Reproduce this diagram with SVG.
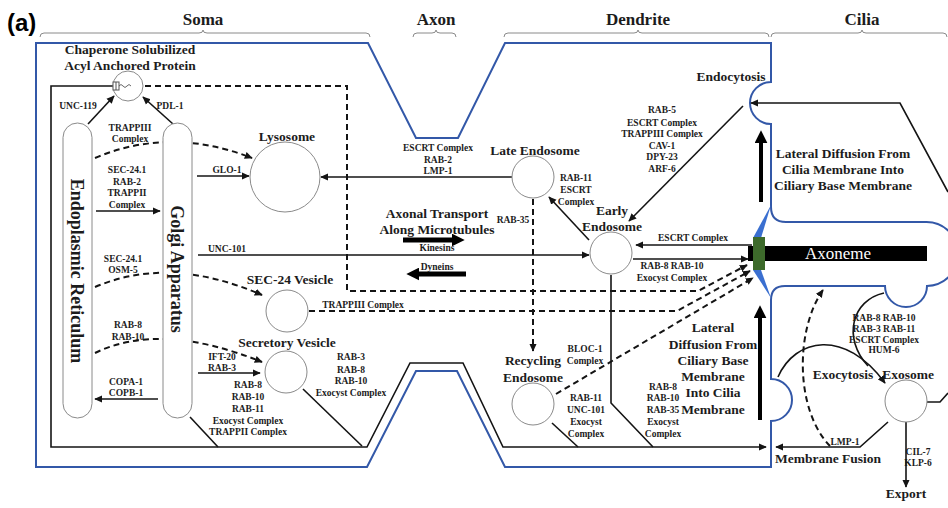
<svg xmlns="http://www.w3.org/2000/svg" width="948" height="508" viewBox="0 0 948 508">
<defs>
<style>
text{font-family:"Liberation Serif",serif;font-weight:bold;fill:#1c1c1c;text-anchor:middle}
.s{font-size:9.5px}
.m{font-size:13.5px}
.h{font-size:17px}
.r{font-size:18px}
.ln{fill:none;stroke:#141414;stroke-width:1.6}
.ds{fill:none;stroke:#141414;stroke-width:2;stroke-dasharray:6 4}
.th{fill:none;stroke:#000;stroke-width:5}
.c{fill:#fff;stroke:#8a8a8a;stroke-width:1}
.br{fill:none;stroke:#8a8a8a;stroke-width:1}
</style>
<marker id="ar" viewBox="0 0 10 10" refX="9" refY="5" markerWidth="8" markerHeight="8" markerUnits="userSpaceOnUse" orient="auto"><path d="M0,0.5 L10,5 L0,9.5 z" fill="#141414"/></marker>
<marker id="big" viewBox="0 0 10 10" refX="1" refY="5" markerWidth="13" markerHeight="13" markerUnits="userSpaceOnUse" orient="auto"><path d="M0,0 L10,5 L0,10 z" fill="#000"/></marker>
</defs>
<rect width="948" height="508" fill="#fff"/>
<text x="7" y="31" style="font-family:'Liberation Sans',sans-serif;font-size:24px;text-anchor:start;fill:#000">(a)</text>
<g id="brackets">
<path class="br" d="M40 37 Q40 33 44 33 H199 Q203 33 203 30 Q203 33 207 33 H366 Q370 33 370 37"/>
<path class="br" d="M413 37 Q413 33 417 33 H432 Q436 33 436 30 Q436 33 440 33 H452 Q456 33 456 37"/>
<path class="br" d="M504 37 Q504 33 508 33 H634 Q638 33 638 30 Q638 33 642 33 H765 Q769 33 769 37"/>
<path class="br" d="M771 37 Q771 33 775 33 H858 Q862 33 862 30 Q862 33 866 33 H943 Q947 33 947 37"/>
<text class="h" x="203" y="25">Soma</text>
<text class="h" x="436" y="25">Axon</text>
<text class="h" x="638" y="25">Dendrite</text>
<text class="h" x="862" y="25">Cilia</text>
</g>
<g id="membrane">
<path d="M36 43 H368 L416 138 H458 L505 43 H771 V82 A21 21 0 0 0 771 124 V207 Q771 222 786 222 H926 A32 32 0 0 1 927 286 A21 21 0 0 1 885 286 H785 Q771 286 771 300 V379 A21 21 0 0 1 771 421 V467 H505 L457 371 H416 L367 467 H36 Z" fill="none" stroke="#3358a8" stroke-width="2"/>
<polygon points="771,205 753,238 761,238" fill="#3a6fd0"/>
<polygon points="753,270 761,270 771,298" fill="#3a6fd0"/>
</g>
<g id="connectors">
<path class="ln" d="M113 86 H51 V447 H367 L410 363 H463 L503 447 H766" marker-end="url(#ar)"/>
<path class="ln" d="M88 124 L114 96" marker-end="url(#ar)"/>
<path class="ln" d="M173 124 L143 97" marker-end="url(#ar)"/>
<path class="ln" d="M96 211 L160 211" marker-end="url(#ar)"/>
<path class="ln" d="M197 176 L249 176" marker-end="url(#ar)"/>
<path class="ln" d="M198 255 L589 255" marker-end="url(#ar)"/>
<path class="ln" d="M198 373 L260 373" marker-end="url(#ar)"/>
<path class="ln" d="M158 399 L95 399" marker-end="url(#ar)"/>
<path class="ln" d="M190 417 L218 447"/>
<path class="ln" d="M303 389 L362 446"/>
<path class="ln" d="M512 177 L321 177" marker-end="url(#ar)"/>
<path class="ln" d="M589 240 L549 197" marker-end="url(#ar)"/>
<path class="ln" d="M743 106 L629 221" marker-end="url(#ar)"/>
<path class="ln" d="M752 245 L636 245" marker-end="url(#ar)"/>
<path class="ln" d="M633 259 L748 259" marker-end="url(#ar)"/>
<path class="ln" d="M611 275 V403 L653 447"/>
<path class="ln" d="M552 423 L578 447"/>
<path class="ln" d="M948 192 L900 103 L751 103" marker-end="url(#ar)"/>
<path class="ln" d="M888 422 L860 447 L776 447" marker-end="url(#ar)"/>
<path class="ln" d="M906 422 V487" marker-end="url(#ar)"/>
<path class="ln" d="M927 402 H940 L948 393"/>
<path class="ln" d="M778 377 C795 338 845 328 885 383" marker-end="url(#ar)"/>
<path class="ln" d="M884 293 C852 300 842 338 868 366"/>
<path class="ds" d="M145 86 H347 V291 H698 L747 265" marker-end="url(#ar)"/>
<path class="ds" d="M309 311 H677 L750 271" marker-end="url(#ar)"/>
<path class="ds" d="M556 394 L753 278" marker-end="url(#ar)"/>
<path class="ds" d="M533 199 V351" marker-end="url(#ar)"/>
<path class="ds" d="M95 158 Q170 126 252 158" marker-end="url(#ar)"/>
<path class="ds" d="M95 287 Q170 255 262 295" marker-end="url(#ar)"/>
<path class="ds" d="M95 353 Q160 321 262 362" marker-end="url(#ar)"/>
<path class="ds" d="M830 446 C795 410 795 330 823 290" marker-end="url(#ar)"/>
<path class="th" d="M403 240 H453" marker-end="url(#big)"/>
<path class="th" d="M466 274 H418" marker-end="url(#big)"/>
<path class="th" style="stroke-width:4" d="M760 420 V317" marker-end="url(#big)"/>
<path class="th" style="stroke-width:4" d="M761 202 V142" marker-end="url(#big)"/>
</g>
<g id="er">
<rect x="63" y="123" width="29" height="295" rx="14.5" class="c"/>
<text class="r" x="77" y="271" dy="0.35em" transform="rotate(90 77 271)">Endoplasmic Reticulum</text>
</g>
<g id="golgi">
<rect x="163" y="123" width="29" height="295" rx="14.5" class="c"/>
<text class="r" x="177" y="269" dy="0.35em" transform="rotate(90 177 269)">Golgi Apparatus</text>
</g>
<g id="chaperone">
<circle cx="128" cy="86" r="15" class="c"/>
<rect x="113" y="82" width="6" height="8" fill="#fff" stroke="#555" stroke-width="1"/>
<line x1="116" y1="82" x2="116" y2="90" stroke="#555" stroke-width="1"/>
<path d="M119 86 q2 -3 4 0 t4 0 t4 0" fill="none" stroke="#555" stroke-width="0.9"/>
<text class="m" x="130" y="54">Chaperone Solubilized</text>
<text class="m" x="130" y="70">Acyl Anchored Protein</text>
</g>
<g id="lysosome">
<circle cx="285" cy="177" r="35" class="c"/>
<text class="m" x="287" y="141">Lysosome</text>
</g>
<g id="sec24">
<circle cx="287" cy="311" r="21" class="c"/>
<text class="m" x="290" y="284">SEC-24 Vesicle</text>
</g>
<g id="secretory">
<circle cx="286" cy="372" r="21" class="c"/>
<text class="m" x="287" y="347">Secretory Vesicle</text>
</g>
<g id="late">
<circle cx="533" cy="177" r="21" class="c"/>
<text class="m" x="535" y="155">Late Endosome</text>
</g>
<g id="early">
<circle cx="611" cy="253" r="21" class="c"/>
<text class="m" x="612" y="215">Early</text>
<text class="m" x="612" y="231">Endosome</text>
</g>
<g id="recycling">
<circle cx="533" cy="404" r="21" class="c"/>
<text class="m" x="533" y="365">Recycling</text>
<text class="m" x="533" y="382">Endosome</text>
</g>
<g id="exosome">
<circle cx="906" cy="401" r="21" class="c"/>
<text class="m" x="908" y="379">Exosome</text>
</g>
<g id="axoneme">
<rect x="748" y="246" width="179" height="15" fill="#000"/>
<rect x="753" y="237" width="12" height="33" fill="#3d6a2b"/>
<text x="838" y="259" style="font-weight:normal;font-size:17px;fill:#fff">Axoneme</text>
</g>
<g id="labels">
<text class="m" x="437" y="218">Axonal Transport</text>
<text class="m" x="437" y="234">Along Microtubules</text>
<text class="m" x="731" y="81">Endocytosis</text>
<text class="m" x="843" y="158">Lateral Diffusion From</text>
<text class="m" x="843" y="174">Cilia Membrane Into</text>
<text class="m" x="843" y="190">Ciliary Base Membrane</text>
<text class="m" x="713" y="332">Lateral</text>
<text class="m" x="713" y="349">Diffusion From</text>
<text class="m" x="713" y="365">Ciliary Base</text>
<text class="m" x="713" y="381">Membrane</text>
<text class="m" x="713" y="397">Into Cilia</text>
<text class="m" x="713" y="414">Membrane</text>
<text class="m" x="843" y="379">Exocytosis</text>
<text class="m" x="828" y="463">Membrane Fusion</text>
<text class="m" x="906" y="498">Export</text>
<text class="s" x="78" y="109">UNC-119</text>
<text class="s" x="170" y="109">PDL-1</text>
<text class="s" x="130" y="131">TRAPPIII</text>
<text class="s" x="130" y="142">Complex</text>
<text class="s" x="127" y="173">SEC-24.1</text>
<text class="s" x="127" y="185">RAB-2</text>
<text class="s" x="127" y="196">TRAPPII</text>
<text class="s" x="127" y="208">Complex</text>
<text class="s" x="227" y="173">GLO-1</text>
<text class="s" x="227" y="252">UNC-101</text>
<text class="s" x="123" y="262">SEC-24.1</text>
<text class="s" x="123" y="273">OSM-5</text>
<text class="s" x="128" y="328">RAB-8</text>
<text class="s" x="128" y="340">RAB-10</text>
<text class="s" x="222" y="360">IFT-20</text>
<text class="s" x="222" y="371">RAB-3</text>
<text class="s" x="126" y="385">COPA-1</text>
<text class="s" x="126" y="396">COPB-1</text>
<text class="s" x="248" y="388">RAB-8</text>
<text class="s" x="248" y="400">RAB-10</text>
<text class="s" x="248" y="412">RAB-11</text>
<text class="s" x="248" y="424">Exocyst Complex</text>
<text class="s" x="248" y="435">TRAPPII Complex</text>
<text class="s" x="351" y="360">RAB-3</text>
<text class="s" x="351" y="373">RAB-8</text>
<text class="s" x="351" y="384">RAB-10</text>
<text class="s" x="351" y="396">Exocyst Complex</text>
<text class="s" x="363" y="308">TRAPPIII Complex</text>
<text class="s" x="438" y="151">ESCRT Complex</text>
<text class="s" x="438" y="163">RAB-2</text>
<text class="s" x="438" y="174">LMP-1</text>
<text class="s" x="437" y="251">Kinesins</text>
<text class="s" x="437" y="270">Dyneins</text>
<text class="s" x="576" y="181">RAB-11</text>
<text class="s" x="576" y="193">ESCRT</text>
<text class="s" x="576" y="205">Complex</text>
<text class="s" x="513" y="223">RAB-35</text>
<text class="s" x="662" y="113">RAB-5</text>
<text class="s" x="662" y="126">ESCRT Complex</text>
<text class="s" x="662" y="137">TRAPPIII Complex</text>
<text class="s" x="662" y="149">CAV-1</text>
<text class="s" x="662" y="160">DPY-23</text>
<text class="s" x="662" y="172">ARF-6</text>
<text class="s" x="693" y="241">ESCRT Complex</text>
<text class="s" x="672" y="269">RAB-8 RAB-10</text>
<text class="s" x="672" y="281">Exocyst Complex</text>
<text class="s" x="585" y="352">BLOC-1</text>
<text class="s" x="585" y="364">Complex</text>
<text class="s" x="586" y="401">RAB-11</text>
<text class="s" x="586" y="413">UNC-101</text>
<text class="s" x="586" y="425">Exocyst</text>
<text class="s" x="586" y="437">Complex</text>
<text class="s" x="663" y="390">RAB-8</text>
<text class="s" x="663" y="401">RAB-10</text>
<text class="s" x="663" y="413">RAB-35</text>
<text class="s" x="663" y="425">Exocyst</text>
<text class="s" x="663" y="437">Complex</text>
<text class="s" x="884" y="321">RAB-8 RAB-10</text>
<text class="s" x="884" y="332">RAB-3 RAB-11</text>
<text class="s" x="884" y="343">ESCRT Complex</text>
<text class="s" x="884" y="353">HUM-6</text>
<text class="s" x="845" y="445">LMP-1</text>
<text class="s" x="918" y="455">CIL-7</text>
<text class="s" x="918" y="466">KLP-6</text>
</g>
</svg>
